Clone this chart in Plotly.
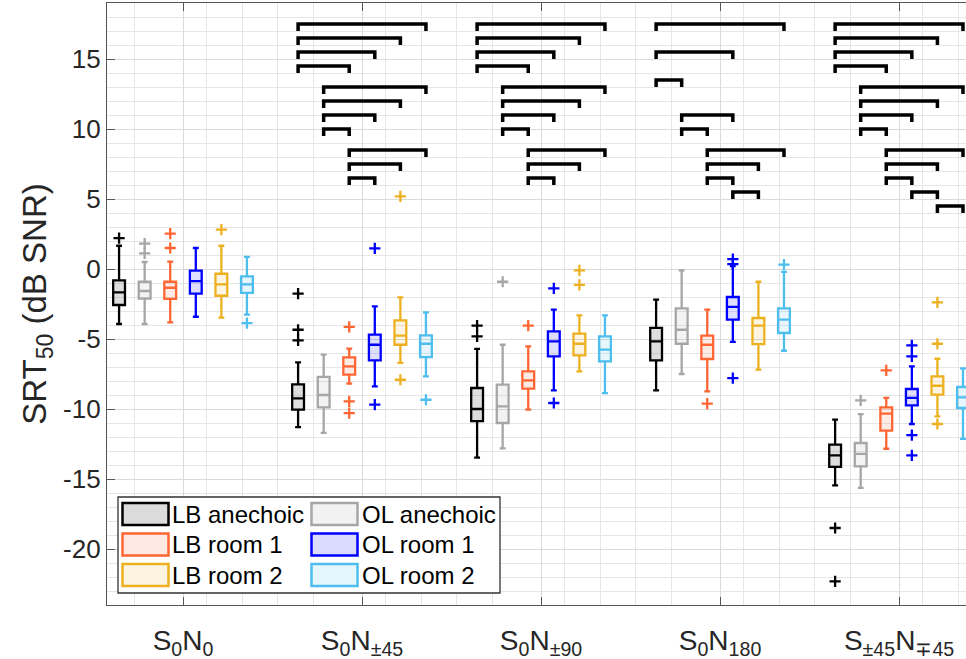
import plotly.graph_objects as go

# ---------------- data ----------------
groups = ["S<sub>0</sub>N<sub>0</sub>", "S<sub>0</sub>N<sub>±45</sub>", "S<sub>0</sub>N<sub>±90</sub>",
          "S<sub>0</sub>N<sub>180</sub>", "S<sub>±45</sub>N<sub>∓45</sub>"]
group_pos = [1, 2, 3, 4, 5]

conditions = ["LB anechoic", "OL anechoic", "LB room 1", "OL room 1", "LB room 2", "OL room 2"]
line_colors = ["#000000", "#A6A6A6", "#FF6633", "#0000FF", "#EDB120", "#4DBEEE"]
fill_rgb = ["0,0,0", "166,166,166", "255,102,51", "0,0,255", "237,177,32", "77,190,238"]

# per condition, one value per group
upper = {
    "LB anechoic": [1.66, -6.67, -5.71, -2.19, -10.76],
    "OL anechoic": [0.50, -6.12, -5.41, -0.10, -10.36],
    "LB room 1":   [0.52, -5.69, -5.52, -2.90, -9.21],
    "OL room 1":   [1.50, -2.67, -2.90, 0.20, -6.95],
    "LB room 2":   [1.66, -2.03, -3.31, -0.91, -6.41],
    "OL room 2":   [0.86, -3.10, -3.31, -0.21, -7.10],
}
q3 = {
    "LB anechoic": [-0.81, -8.24, -8.50, -4.21, -12.55],
    "OL anechoic": [-0.91, -7.71, -8.26, -2.81, -12.43],
    "LB room 1":   [-0.91, -6.31, -7.31, -4.76, -9.88],
    "OL room 1":   [-0.12, -4.69, -4.45, -2.00, -8.57],
    "LB room 2":   [-0.34, -3.67, -4.62, -3.50, -7.67],
    "OL room 2":   [-0.53, -4.74, -4.81, -2.81, -8.43],
}
median = {
    "LB anechoic": [-1.67, -9.24, -10.00, -5.17, -13.31],
    "OL anechoic": [-1.57, -9.00, -9.81, -4.34, -13.21],
    "LB room 1":   [-1.34, -6.95, -7.95, -5.41, -10.33],
    "OL room 1":   [-0.86, -5.41, -5.17, -2.71, -9.21],
    "LB room 2":   [-1.10, -4.76, -5.34, -4.05, -8.34],
    "OL room 2":   [-1.10, -5.34, -5.76, -3.62, -9.17],
}
q1 = {
    "LB anechoic": [-2.57, -10.05, -10.86, -6.53, -14.14],
    "OL anechoic": [-2.12, -9.88, -11.00, -5.34, -14.10],
    "LB room 1":   [-2.14, -7.55, -8.55, -6.43, -11.55],
    "OL room 1":   [-1.76, -6.53, -6.24, -3.62, -9.74],
    "LB room 2":   [-1.91, -5.41, -6.17, -5.36, -8.98],
    "OL room 2":   [-1.71, -6.29, -6.60, -4.57, -9.93],
}
lower = {
    "LB anechoic": [-3.93, -11.29, -13.48, -8.67, -15.45],
    "OL anechoic": [-3.93, -11.71, -12.81, -7.50, -15.64],
    "LB room 1":   [-3.81, -8.19, -10.05, -8.74, -12.84],
    "OL room 1":   [-3.41, -8.38, -8.67, -5.21, -11.07],
    "LB room 2":   [-3.48, -6.71, -7.31, -7.19, -10.52],
    "OL room 2":   [-3.26, -7.67, -8.86, -5.84, -12.14],
}
outliers = {
    "LB anechoic": [[2.21], [-1.76, -4.34, -5.10], [-4.05, -4.81], [], [-18.50, -22.31]],
    "OL anechoic": [[1.81, 1.12], [], [-0.91], [], [-9.38]],
    "LB room 1":   [[2.52, 1.50], [-4.14, -9.46, -10.29], [-4.05], [-9.62], [-7.24]],
    "OL room 1":   [[], [1.47, -9.69], [-1.38, -9.57], [0.71, 0.35, -7.79], [-5.45, -6.24, -11.86, -13.31]],
    "LB room 2":   [[2.81], [5.19, -7.91], [-0.10, -1.14], [], [-2.38, -5.34, -11.07]],
    "OL room 2":   [[-3.86], [-9.34], [], [0.31], []],
}

# significance brackets: (group, first box, second box, level)
brackets = [
    (2, 1, 6, 17.5), (2, 1, 5, 16.5), (2, 1, 4, 15.5), (2, 1, 3, 14.5),
    (2, 2, 6, 13.0), (2, 2, 5, 12.0), (2, 2, 4, 11.0), (2, 2, 3, 10.0),
    (2, 3, 6, 8.5), (2, 3, 5, 7.5), (2, 3, 4, 6.5),
    (3, 1, 6, 17.5), (3, 1, 5, 16.5), (3, 1, 4, 15.5), (3, 1, 3, 14.5),
    (3, 2, 6, 13.0), (3, 2, 5, 12.0), (3, 2, 4, 11.0), (3, 2, 3, 10.0),
    (3, 3, 6, 8.5), (3, 3, 5, 7.5), (3, 3, 4, 6.5),
    (4, 1, 6, 17.5), (4, 1, 4, 15.5), (4, 1, 2, 13.5),
    (4, 2, 4, 11.0), (4, 2, 3, 10.0),
    (4, 3, 6, 8.5), (4, 3, 5, 7.5), (4, 3, 4, 6.5), (4, 4, 5, 5.5),
    (5, 1, 6, 17.5), (5, 1, 5, 16.5), (5, 1, 4, 15.5), (5, 1, 3, 14.5),
    (5, 2, 6, 13.0), (5, 2, 5, 12.0), (5, 2, 4, 11.0), (5, 2, 3, 10.0),
    (5, 3, 6, 8.5), (5, 3, 5, 7.5), (5, 3, 4, 6.5), (5, 4, 5, 5.5), (5, 5, 6, 4.5),
]
bracket_drop = 0.5

y_tickvals = [-20, -15, -10, -5, 0, 5, 10, 15]
y_ticktext = ["-20", "-15", "-10", "-5", "0", "5", "10", "15"]
x_minor_offsets = [0.13, 0.33, 0.53, 0.73]

# ---------------- layout constants ----------------
W, H = 966, 659
ML, MR, MT, MB = 107, 0, 3, 54
XR = [0.5754, 5.374]
YR = [-24, 19]
BOX_STEP = 1 / 7.0
FONT = "Liberation Sans, Arial, Helvetica, sans-serif"


def box_x(g, k):
    return g + (k - 2.5) * BOX_STEP


def px2paper(px, py):
    return (px - ML) / (W - ML - MR), (H - MB - py) / (H - MB - MT)


fig = go.Figure()

for k, c in enumerate(conditions):
    xs = [box_x(g, k) for g in group_pos]
    fig.add_trace(go.Box(
        x=xs, q1=q1[c], median=median[c], q3=q3[c],
        lowerfence=lower[c], upperfence=upper[c],
        name=c, width=0.066, whiskerwidth=0.5,
        line=dict(color=line_colors[k], width=2.3),
        fillcolor=f"rgba({fill_rgb[k]},0.13)",
        boxpoints=False, showlegend=False, hoverinfo="skip",
    ))
    ox, oy = [], []
    for gi, g in enumerate(group_pos):
        for v in outliers[c][gi]:
            ox.append(box_x(g, k))
            oy.append(v)
    fig.add_trace(go.Scatter(
        x=ox, y=oy, mode="markers", showlegend=False, hoverinfo="skip",
        marker=dict(symbol="cross-thin", size=8, color=line_colors[k],
                    line=dict(color=line_colors[k], width=2.3)),
    ))

bx, by = [], []
for g, i, j, lev in brackets:
    x1, x2 = box_x(g, i - 1), box_x(g, j - 1)
    bx += [x1, x1, x2, x2, None]
    by += [lev - bracket_drop, lev, lev, lev - bracket_drop, None]
fig.add_trace(go.Scatter(x=bx, y=by, mode="lines", showlegend=False, hoverinfo="skip",
                         line=dict(color="black", width=3.5)))

# x minor grid positions
x_minor = [g + o for g in range(0, 7) for o in x_minor_offsets if XR[0] <= g + o <= XR[1]]

fig.update_layout(
    width=W, height=H,
    margin=dict(l=ML, r=MR, t=MT, b=MB, autoexpand=False),
    paper_bgcolor="white", plot_bgcolor="white",
    boxmode="overlay",
    font=dict(family=FONT, color="#262626"),
    showlegend=False,
)
fig.update_xaxes(
    range=XR, tickmode="array", tickvals=group_pos, ticktext=groups, automargin=False,
    tickfont=dict(size=28, color="#262626", family=FONT),
    ticks="inside", ticklen=8, tickwidth=1.2, tickcolor="#555555",
    showline=True, linecolor="#555555", linewidth=1.4, mirror="ticks",
    showgrid=True, gridcolor="#dadada", gridwidth=1,
    minor=dict(tickmode="array", tickvals=x_minor, showgrid=True, gridcolor="#e6e6e6",
               gridwidth=1, ticks=""),
    zeroline=False, ticklabelstandoff=10,
)
fig.update_yaxes(
    range=YR, tickmode="array", tickvals=y_tickvals, ticktext=y_ticktext, automargin=False,
    tickfont=dict(size=26, color="#262626", family=FONT),
    ticks="inside", ticklen=8, tickwidth=1.2, tickcolor="#555555",
    showline=True, linecolor="#555555", linewidth=1.4, mirror=False,
    showgrid=True, gridcolor="#dadada", gridwidth=1,
    minor=dict(dtick=1, tick0=0, showgrid=True, gridcolor="#e6e6e6", gridwidth=1, ticks=""),
    zeroline=False,
    title=dict(text="SRT<sub>50</sub> (dB SNR)", font=dict(size=33, color="#262626", family=FONT),
               standoff=6),
)

# -------- legend (manual, two columns) --------
x0, y0 = px2paper(118, 497)
x1, y1 = px2paper(500, 593)
fig.add_shape(type="rect", xref="paper", yref="paper", x0=x0, y0=y1, x1=x1, y1=y0,
              line=dict(color="#333333", width=1.3), fillcolor="white", layer="above")
legend_rows = [514, 544.5, 575]
legend_cols = [(122.5, 168.5, 170), (311.5, 357.5, 359.5)]
for k, c in enumerate(conditions):
    r, col = k // 2, k % 2
    sx0, sx1, tx = legend_cols[col]
    cy = legend_rows[r]
    a0, b0 = px2paper(sx0, cy - 11)
    a1, b1 = px2paper(sx1, cy + 11)
    fig.add_shape(type="rect", xref="paper", yref="paper", x0=a0, y0=b1, x1=a1, y1=b0,
                  line=dict(color=line_colors[k], width=2.5),
                  fillcolor=f"rgba({fill_rgb[k]},0.14)", layer="above")
    ax, ay = px2paper(tx, cy)
    fig.add_annotation(xref="paper", yref="paper", x=ax, y=ay, xanchor="left", yanchor="middle",
                       text=c, showarrow=False, font=dict(size=24, color="#000000", family=FONT))

fig.write_html("out.html")
